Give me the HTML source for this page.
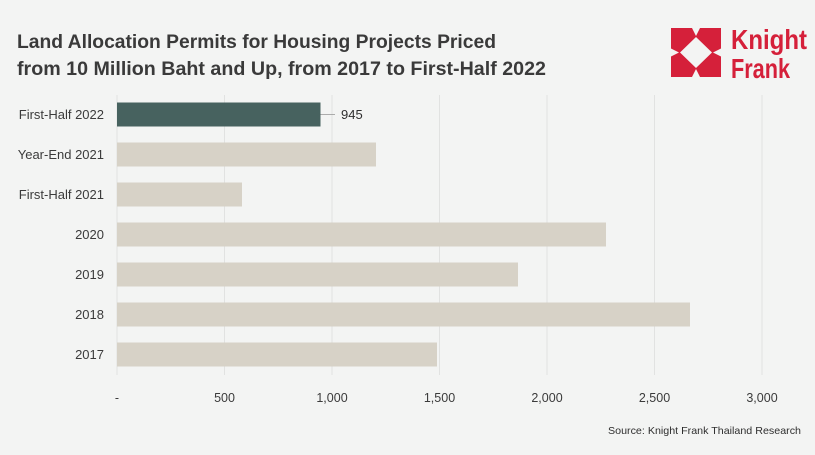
<!DOCTYPE html>
<html>
<head>
<meta charset="utf-8">
<style>
  html,body{margin:0;padding:0;background:#f3f4f3;}
  svg{display:block;}
  text{font-family:"Liberation Sans",sans-serif;}
</style>
</head>
<body>
<svg width="815" height="455" viewBox="0 0 815 455" xmlns="http://www.w3.org/2000/svg">
  <rect x="0" y="0" width="815" height="455" fill="#f3f4f3"/>

  <!-- Title -->
  <text x="17" y="48" font-size="19" font-weight="bold" fill="#3a3a3a" textLength="479" lengthAdjust="spacingAndGlyphs">Land Allocation Permits for Housing Projects Priced</text>
  <text x="17" y="75" font-size="19" font-weight="bold" fill="#3a3a3a" textLength="529" lengthAdjust="spacingAndGlyphs">from 10 Million Baht and Up, from 2017 to First-Half 2022</text>

  <!-- Logo -->
  <g transform="translate(671,28)">
    <rect x="0" y="0" width="50" height="49" fill="#d5203a"/>
    <polygon points="25,9 41,24.5 25,40 9,24.5" fill="#f3f4f3"/>
    <polygon points="21,0 29,0 25,8" fill="#f3f4f3"/>
    <polygon points="21,49 29,49 25,41" fill="#f3f4f3"/>
    <polygon points="0,20.5 0,28.5 8,24.5" fill="#f3f4f3"/>
    <polygon points="50,20.5 50,28.5 42,24.5" fill="#f3f4f3"/>
  </g>
  <text x="731" y="49" font-size="28" font-weight="bold" fill="#d5203a" textLength="76" lengthAdjust="spacingAndGlyphs">Knight</text>
  <text x="731" y="78" font-size="28" font-weight="bold" fill="#d5203a" textLength="59" lengthAdjust="spacingAndGlyphs">Frank</text>

  <!-- Gridlines -->
  <g stroke="#e1e2e1" stroke-width="1">
    <line x1="117" y1="95" x2="117" y2="375"/>
    <line x1="224.5" y1="95" x2="224.5" y2="375"/>
    <line x1="332" y1="95" x2="332" y2="375"/>
    <line x1="439.5" y1="95" x2="439.5" y2="375"/>
    <line x1="547" y1="95" x2="547" y2="375"/>
    <line x1="654.5" y1="95" x2="654.5" y2="375"/>
    <line x1="762" y1="95" x2="762" y2="375"/>
  </g>

  <!-- Bars -->
  <rect x="117" y="102.5" width="203.5" height="24" fill="#47625f"/>
  <rect x="117" y="142.5" width="259" height="24" fill="#d7d2c7"/>
  <rect x="117" y="182.5" width="125" height="24" fill="#d7d2c7"/>
  <rect x="117" y="222.5" width="489" height="24" fill="#d7d2c7"/>
  <rect x="117" y="262.5" width="401" height="24" fill="#d7d2c7"/>
  <rect x="117" y="302.5" width="573" height="24" fill="#d7d2c7"/>
  <rect x="117" y="342.5" width="320" height="24" fill="#d7d2c7"/>

  <!-- Data label -->
  <line x1="320.5" y1="114.5" x2="335" y2="114.5" stroke="#9a9a9a" stroke-width="0.8"/>
  <text x="341" y="119" font-size="13" fill="#2e2e2e">945</text>

  <!-- Category labels -->
  <g font-size="13" fill="#3b3b3b" text-anchor="end">
    <text x="104" y="119">First-Half 2022</text>
    <text x="104" y="159">Year-End 2021</text>
    <text x="104" y="199">First-Half 2021</text>
    <text x="104" y="239">2020</text>
    <text x="104" y="279">2019</text>
    <text x="104" y="319">2018</text>
    <text x="104" y="359">2017</text>
  </g>

  <!-- Tick labels -->
  <g font-size="12.5" fill="#3b3b3b" text-anchor="middle">
    <text x="117" y="402">-</text>
    <text x="224.5" y="402">500</text>
    <text x="332" y="402">1,000</text>
    <text x="439.5" y="402">1,500</text>
    <text x="547" y="402">2,000</text>
    <text x="654.5" y="402">2,500</text>
    <text x="762" y="402">3,000</text>
  </g>

  <!-- Source -->
  <text x="801" y="434" font-size="10.5" fill="#2e2e2e" text-anchor="end" textLength="193" lengthAdjust="spacingAndGlyphs">Source: Knight Frank Thailand Research</text>
</svg>
</body>
</html>
